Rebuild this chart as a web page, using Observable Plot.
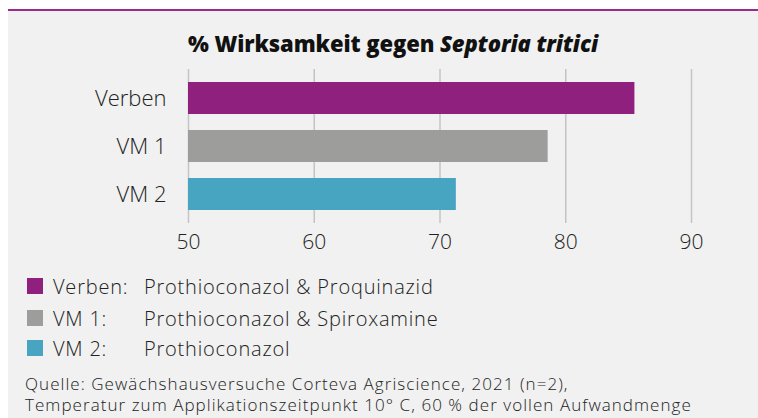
<!DOCTYPE html>
<html>
<head>
<meta charset="utf-8">
<script src="https://cdn.jsdelivr.net/npm/d3@7"></script>
<script src="https://cdn.jsdelivr.net/npm/@observablehq/plot@0.6"></script>
<style>
  html, body { margin: 0; padding: 0; background: #ffffff; }
  body { width: 758px; height: 418px; position: relative; overflow: hidden; font-family: "Open Sans", Lato, sans-serif; color: #222; }
  #panel { position: absolute; left: 8px; top: 9px; width: 750px; height: 409px; background: #f0f1f0; border-top: 2.5px solid #9b2a8e; box-sizing: border-box; }
  #title { position: absolute; left: 188px; top: 28px; font-size: 22px; line-height: 30px; font-weight: 800; letter-spacing: -0.1px; white-space: nowrap; color: #111; }
  #chart { position: absolute; left: 0; top: 60px; }
  .leg { position: absolute; left: 27px; font-size: 20px; font-weight: 300; letter-spacing: 0.8px; white-space: nowrap; height: 24px; line-height: 24px; }
  .leg .sw { position: absolute; left: 0; top: 3px; width: 16px; height: 16px; }
  .leg .k { position: absolute; left: 26px; top: 0; }
  .leg .d { position: absolute; left: 117px; top: 0; }
  #caption { position: absolute; left: 25px; top: 373px; font-size: 17px; font-weight: 300; letter-spacing: 1.05px; line-height: 21px; white-space: nowrap; color: #222; }
</style>
</head>
<body>
<div id="panel"></div>
<div id="title">% Wirksamkeit gegen <i>Septoria tritici</i></div>
<div id="chart"></div>
<div id="legend"></div>
<div id="caption"></div>
<script>
const categories = ["Verben", "VM 1", "VM 2"];
const values = [85.5, 78.6, 71.3];
const colors = ["#8f207e", "#9d9d9c", "#47a5c2"];
const xTicks = [50, 60, 70, 80, 90];
const baseline = 50;
const legendKeys = ["Verben:", "VM 1:", "VM 2:"];
const legendDescs = ["Prothioconazol & Proquinazid", "Prothioconazol & Spiroxamine", "Prothioconazol"];
const captionLines = [
  "Quelle: Gewächshausversuche Corteva Agriscience, 2021 (n=2),",
  "Temperatur zum Applikationszeitpunkt 10° C, 60 % der vollen Aufwandmenge"
];

const data = categories.map((c, i) => ({category: c, value: values[i], color: colors[i]}));

const chart = Plot.plot({
  width: 758,
  height: 200,
  marginLeft: 188,
  marginRight: 67,
  marginTop: 9,
  marginBottom: 37,
  style: {background: "transparent", fontFamily: "'Open Sans', Lato, sans-serif", fontSize: "20px", color: "#222", fontWeight: 300},
  x: {domain: [baseline, 90], ticks: xTicks, tickSize: 0, tickPadding: 12, label: null},
  y: {domain: categories, paddingInner: 0.327, paddingOuter: 0.235, tickSize: 0, tickPadding: 22, label: null},
  marks: [
    Plot.gridX(xTicks, {stroke: "#c4c4c4", strokeOpacity: 1, strokeWidth: 1.5}),
    Plot.barX(data, {x1: () => baseline, x2: "value", y: "category", fill: "color"}),
    Plot.axisX({ticks: xTicks, tickSize: 0, tickPadding: 11, fontSize: 21}),
    Plot.axisY({tickSize: 0, tickPadding: 22, fontSize: 22, style: {letterSpacing: "1px"}})
  ]
});
document.getElementById("chart").appendChild(chart);

const legend = document.getElementById("legend");
const legendTops = [275, 307, 337];
legendKeys.forEach((k, i) => {
  const row = document.createElement("div");
  row.className = "leg";
  row.style.top = legendTops[i] + "px";
  row.innerHTML = `<span class="sw" style="background:${colors[i]}"></span><span class="k"></span><span class="d"></span>`;
  row.querySelector(".k").textContent = k;
  row.querySelector(".d").textContent = legendDescs[i];
  legend.appendChild(row);
});

const cap = document.getElementById("caption");
captionLines.forEach((l, i) => {
  if (i > 0) cap.appendChild(document.createElement("br"));
  cap.appendChild(document.createTextNode(l));
});
</script>
</body>
</html>
